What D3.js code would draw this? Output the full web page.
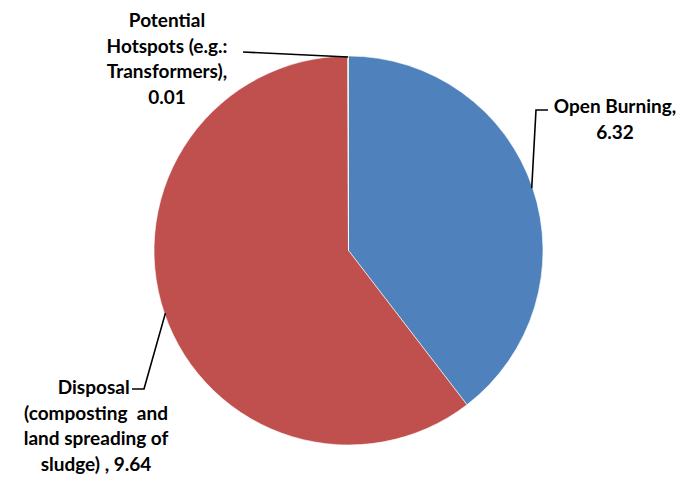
<!DOCTYPE html>
<html>
<head>
<meta charset="utf-8">
<script src="https://cdn.jsdelivr.net/npm/d3@7/dist/d3.min.js"></script>
<style>
  html, body { margin: 0; padding: 0; background: #fff; }
  svg { display: block; }
  text { font-family: Lato, "Open Sans", sans-serif; font-weight: bold; fill: #000; }
</style>
</head>
<body>
<svg id="chart" width="684" height="477"></svg>
<script>
// Source categories and their values, in drawing order (clockwise from 12 o'clock)
const categories = [
  "Open Burning",
  "Disposal (composting and land spreading of sludge)",
  "Potential Hotspots (e.g.: Transformers)"
];
const values = [6.32, 9.64, 0.01];
const colors = ["#4F81BD", "#C0504D", "#9BBB59"];

// Label text split into lines as printed beside each slice
const labelLines = [
  ["Open Burning,", "6.32"],
  ["Disposal ", "(composting  and", "land spreading of", "sludge) , 9.64"],
  ["Potential", "Hotspots (e.g.:", "Transformers),", "0.01"]
];

const svg = d3.select("#chart");
const cx = 348.5, cy = 250.5, r = 194.5;

const pie = d3.pie().sort(null).value(d => d);
const arcs = pie(values);
const arc = d3.arc().innerRadius(0).outerRadius(r);

const g = svg.append("g").attr("transform", `translate(${cx},${cy})`);
g.selectAll("path.slice")
  .data(arcs)
  .join("path")
  .attr("class", "slice")
  .attr("d", arc)
  .attr("fill", (d, i) => colors[i])
  .attr("stroke", "#fff")
  .attr("stroke-width", 0.6);

// Point on the pie rim at the middle of a slice
function rimMid(d, rr) {
  const a = (d.startAngle + d.endAngle) / 2;
  return [cx + Math.sin(a) * rr, cy - Math.cos(a) * rr];
}

// Label anchors and leader elbows
const labelLayout = [
  { x: 615, y: 108, elbow: [536, 110], end: [548, 110] },
  { x: 96, y: 389, elbow: [144, 389], end: [132, 389] },
  { x: 167, y: 22, elbow: null, end: [243, 52] }
];

const lineH = 25.7;
const fontSize = 19;

arcs.forEach((d, i) => {
  const L = labelLayout[i];
  const pts = [rimMid(d, r - 1)];
  if (L.elbow) pts.push(L.elbow);
  pts.push(L.end);
  svg.append("path")
    .attr("d", d3.line()(pts))
    .attr("fill", "none")
    .attr("stroke", "#000")
    .attr("stroke-width", 1.6);

  const t = svg.append("text")
    .attr("text-anchor", "middle")
    .attr("font-size", fontSize);
  labelLines[i].forEach((s, k) => {
    t.append("tspan")
      .attr("x", L.x)
      .attr("y", L.y + k * lineH)
      .attr("dominant-baseline", "middle")
      .style("white-space", "pre")
      .text(s);
  });
});
</script>
</body>
</html>
